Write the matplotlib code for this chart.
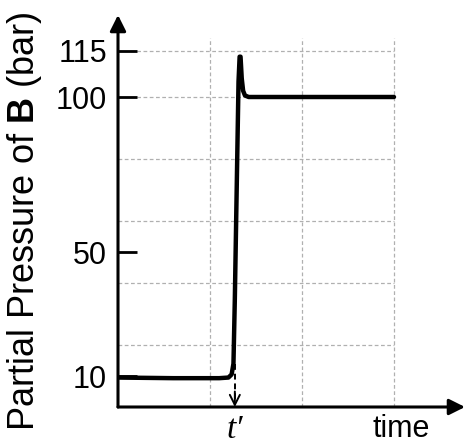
import matplotlib.pyplot as plt

# pressure of B vs time (schematic)
time = [0.0, 0.6, 1.1, 1.2, 1.235, 1.255, 1.27, 1.29, 1.31, 1.322, 1.332, 1.345, 1.36, 1.38, 1.42, 1.5, 2.0, 3.0]
pressure = [9.5, 9.3, 9.3, 9.5, 10.5, 14, 35, 70, 105, 113, 113, 106, 102, 100.5, 100, 100, 100, 100]

ytick_vals = [10, 50, 100, 115]
ygrid_vals = [20, 40, 60, 80, 100, 115]
xgrid_vals = [1, 2, 3]
t_prime = 1.27

plt.rcParams['font.family'] = ['Liberation Sans', 'DejaVu Sans']
plt.rcParams['mathtext.fontset'] = 'custom'
plt.rcParams['mathtext.rm'] = 'Liberation Sans'
plt.rcParams['mathtext.bf'] = 'Liberation Sans:bold'

fig = plt.figure(figsize=(4.68, 4.48), dpi=100)
ax = fig.add_axes([118 / 468, 41 / 448, 347 / 468, 392 / 448])
ax.set_xlim(0, 347 / 92)
ax.set_ylim(0, 392 / 3.1)

for s in ax.spines.values():
    s.set_visible(False)

# grid box
ax.hlines(ygrid_vals, 0, 3, colors='#b0b0b0', linestyles=(0, (3, 2)), lw=0.9, zorder=1)
ax.vlines(xgrid_vals, 0, 119, colors='#b0b0b0', linestyles=(0, (3, 2)), lw=0.9, zorder=1)

# axes with arrow heads
ax.annotate('', xy=(0, 1), xytext=(0, 0), xycoords='axes fraction',
            arrowprops=dict(arrowstyle='-|>', lw=2.2, color='k', mutation_scale=24, shrinkA=0, shrinkB=0))
ax.annotate('', xy=(1, 0), xytext=(0, 0), xycoords='axes fraction',
            arrowprops=dict(arrowstyle='-|>', lw=2.2, color='k', mutation_scale=24, shrinkA=0, shrinkB=0))

ax.plot(time, pressure, color='k', lw=3.2, solid_capstyle='round', solid_joinstyle='round', zorder=3)

# dashed arrow down to t'
ax.plot([t_prime, t_prime], [14, 2], color='k', lw=1.4, ls=(0, (3, 2)), zorder=2)
ax.annotate('', xy=(t_prime, 0), xytext=(t_prime, 5),
            arrowprops=dict(arrowstyle='->', lw=1.4, color='k', mutation_scale=18, shrinkA=0, shrinkB=0))

ax.set_yticks(ytick_vals)
ax.set_yticklabels([str(v) for v in ytick_vals])
ax.tick_params(axis='y', direction='in', length=14, width=2, pad=8, labelsize=22)
ax.set_xticks([])

ax.text(t_prime, -7.2, 't\u2032', ha='center', va='center', fontsize=24,
        family=['Liberation Serif', 'DejaVu Serif'], style='italic')
ax.text(3.08, -7, 'time', ha='center', va='center', fontsize=22)

fig.text(25 / 468, 0.505, r'Partial Pressure of $\mathbf{B}$ (bar)', rotation=90,
         ha='center', va='center', fontsize=26)

fig.savefig('out.png', dpi=100)
